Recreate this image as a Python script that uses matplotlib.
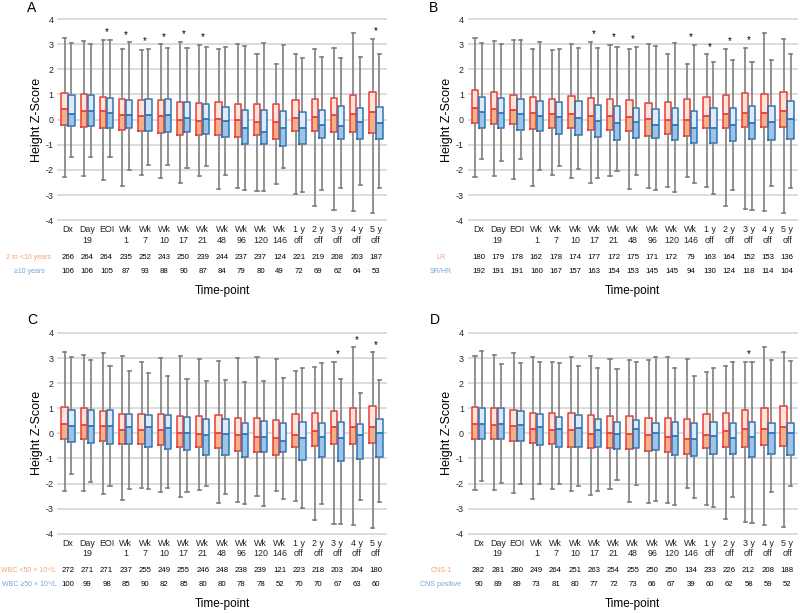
import matplotlib.pyplot as plt
import numpy as np

plt.rcParams['font.family'] = ['Liberation Sans', 'DejaVu Sans']
plt.rcParams['axes.unicode_minus'] = False

timepoints = ["Dx", "Day\n19", "EOI", "Wk\n1", "Wk\n7", "Wk\n10", "Wk\n17", "Wk\n21",
              "Wk\n48", "Wk\n96", "Wk\n120", "Wk\n146", "1 y\noff", "2 y\noff",
              "3 y\noff", "4 y\noff", "5 y\noff"]

# each entry: whisker low, Q1, median, Q3, whisker high
# --- A: age
a_red = [(-2.26, -0.23, 0.41, 1.06, 3.26), (-2.24, -0.28, 0.34, 1.03, 3.13), (-2.38, -0.32, 0.34, 0.91, 3.15),
         (-2.64, -0.42, 0.19, 0.81, 2.82), (-2.20, -0.44, 0.15, 0.77, 2.78), (-2.30, -0.53, 0.16, 0.78, 2.99),
         (-2.50, -0.60, 0.00, 0.70, 3.09), (-2.22, -0.60, -0.04, 0.68, 2.97), (-2.76, -0.60, 0.03, 0.72, 2.81),
         (-2.73, -0.68, 0.00, 0.62, 3.02), (-2.85, -0.62, -0.08, 0.61, 2.60), (-2.54, -0.75, -0.10, 0.62, 2.20),
         (-2.95, -0.46, 0.05, 0.79, 2.60), (-3.43, -0.46, 0.11, 0.83, 2.81), (-3.59, -0.50, 0.20, 0.85, 2.85),
         (-3.62, -0.48, 0.21, 0.97, 3.43), (-3.72, -0.54, 0.29, 1.11, 3.22)]
a_blue = [(-1.47, -0.25, 0.24, 0.97, 3.03), (-1.47, -0.25, 0.33, 0.97, 2.99), (-1.47, -0.34, 0.28, 0.87, 3.18),
          (-2.01, -0.33, 0.20, 0.79, 3.07), (-1.79, -0.44, 0.17, 0.81, 2.82), (-1.80, -0.49, 0.20, 0.82, 2.85),
          (-1.93, -0.50, 0.05, 0.72, 2.86), (-1.83, -0.56, 0.01, 0.64, 2.90), (-2.19, -0.68, -0.05, 0.52, 2.89),
          (-2.79, -0.95, -0.32, 0.37, 2.91), (-2.82, -0.97, -0.49, 0.40, 3.03), (-1.93, -1.03, -0.32, 0.34, 2.98),
          (-2.87, -0.95, -0.32, 0.30, 2.45), (-2.80, -0.74, -0.20, 0.40, 2.48), (-2.71, -0.75, -0.26, 0.54, 2.45),
          (-2.61, -0.75, -0.09, 0.45, 2.48), (-2.70, -0.75, -0.13, 0.49, 2.60)]
a_red_n = [266, 264, 264, 235, 252, 243, 250, 239, 244, 237, 237, 124, 221, 219, 208, 203, 187]
a_blue_n = [106, 106, 105, 87, 93, 88, 90, 87, 84, 79, 80, 49, 72, 69, 62, 64, 53]
a_groups = ["2 to <10 years", "≥10 years"]
a_sig = [2, 3, 4, 5, 6, 7, 16]

# --- B: risk group
b_red = [(-2.28, -0.15, 0.45, 1.19, 3.26), (-2.25, -0.19, 0.41, 1.11, 3.13), (-2.37, -0.19, 0.40, 0.99, 3.15),
         (-2.64, -0.37, 0.25, 0.89, 2.82), (-2.20, -0.32, 0.21, 0.83, 2.78), (-2.30, -0.34, 0.24, 0.93, 2.99),
         (-2.50, -0.41, 0.13, 0.85, 3.09), (-2.22, -0.40, 0.13, 0.81, 2.97), (-2.76, -0.44, 0.09, 0.79, 2.81),
         (-2.73, -0.66, 0.04, 0.68, 3.02), (-2.69, -0.56, -0.03, 0.72, 2.60), (-2.26, -0.66, 0.00, 0.81, 2.20),
         (-2.66, -0.34, 0.16, 0.91, 2.60), (-3.43, -0.34, 0.21, 0.98, 2.81), (-3.56, -0.29, 0.25, 1.05, 2.85),
         (-3.62, -0.28, 0.25, 1.00, 3.43), (-3.72, -0.29, 0.33, 1.11, 3.22)]
b_blue = [(-1.56, -0.32, 0.29, 0.90, 3.05), (-1.63, -0.34, 0.28, 0.85, 2.99), (-1.55, -0.40, 0.21, 0.83, 3.18),
          (-2.01, -0.45, 0.16, 0.75, 3.07), (-1.85, -0.57, 0.09, 0.69, 2.82), (-1.95, -0.60, 0.08, 0.74, 2.85),
          (-2.30, -0.69, -0.05, 0.60, 2.86), (-2.04, -0.81, -0.15, 0.54, 2.90), (-2.19, -0.72, -0.08, 0.48, 2.89),
          (-2.79, -0.74, -0.20, 0.41, 2.91), (-2.86, -0.82, -0.21, 0.45, 3.03), (-2.53, -0.93, -0.33, 0.34, 2.98),
          (-2.95, -0.94, -0.32, 0.48, 2.29), (-2.80, -0.85, -0.20, 0.48, 2.38), (-3.59, -0.77, -0.13, 0.54, 2.30),
          (-2.62, -0.82, -0.08, 0.56, 2.38), (-2.70, -0.75, 0.01, 0.75, 2.60)]
b_red_n = [180, 179, 178, 162, 178, 174, 177, 172, 175, 171, 172, 79, 163, 164, 152, 153, 136]
b_blue_n = [192, 191, 191, 160, 167, 157, 163, 154, 153, 145, 145, 94, 130, 124, 118, 114, 104]
b_groups = ["LR", "SR/HR"]
b_sig = [6, 7, 8, 11, 12, 13, 14]

# --- C: WBC at diagnosis
c_red = [(-2.29, -0.23, 0.36, 1.06, 3.26), (-2.29, -0.24, 0.33, 1.02, 3.12), (-2.41, -0.31, 0.28, 0.88, 3.19),
         (-2.67, -0.41, 0.15, 0.78, 3.07), (-2.19, -0.43, 0.12, 0.76, 2.83), (-2.34, -0.45, 0.12, 0.78, 3.00),
         (-2.54, -0.56, 0.00, 0.70, 3.07), (-2.26, -0.54, -0.01, 0.69, 2.96), (-2.79, -0.58, 0.00, 0.72, 2.90),
         (-2.72, -0.70, -0.05, 0.61, 3.02), (-2.51, -0.76, -0.13, 0.60, 3.03), (-2.30, -0.85, -0.19, 0.52, 2.98),
         (-2.68, -0.54, -0.05, 0.78, 2.48), (-3.47, -0.50, 0.09, 0.82, 2.66), (-3.60, -0.43, 0.24, 0.90, 2.86),
         (-3.67, -0.44, 0.25, 1.00, 3.43), (-3.76, -0.39, 0.27, 1.09, 3.23)]
c_blue = [(-1.61, -0.36, 0.31, 0.93, 3.03), (-1.93, -0.40, 0.31, 0.93, 2.94), (-2.11, -0.44, 0.31, 0.92, 2.70),
          (-2.23, -0.41, 0.27, 0.78, 2.50), (-2.21, -0.54, 0.24, 0.72, 2.41), (-2.17, -0.64, 0.23, 0.73, 2.29),
          (-2.34, -0.66, 0.01, 0.66, 2.18), (-2.10, -0.88, -0.08, 0.56, 2.10), (-2.43, -0.85, -0.01, 0.56, 2.11),
          (-2.82, -0.93, -0.04, 0.41, 2.03), (-2.88, -0.76, -0.15, 0.48, 2.09), (-2.60, -0.74, -0.29, 0.43, 2.21),
          (-2.99, -1.08, -0.20, 0.47, 2.59), (-2.83, -0.94, -0.15, 0.43, 2.82), (-3.63, -1.09, -0.20, 0.44, 2.17),
          (-2.64, -1.04, -0.07, 0.39, 1.62), (-2.72, -0.93, 0.00, 0.57, 2.14)]
c_red_n = [272, 271, 271, 237, 255, 249, 255, 246, 248, 238, 239, 121, 223, 218, 203, 204, 180]
c_blue_n = [100, 99, 98, 85, 90, 82, 85, 80, 80, 78, 78, 52, 70, 70, 67, 63, 60]
c_groups = ["WBC <50 × 10⁹/L", "WBC ≥50 × 10⁹/L"]
c_sig = [14, 15, 16]

# --- D: CNS status
d_red = [(-2.26, -0.21, 0.37, 1.06, 3.10), (-2.24, -0.24, 0.33, 1.00, 3.13), (-2.37, -0.30, 0.29, 0.93, 3.20),
         (-2.63, -0.38, 0.17, 0.81, 3.06), (-2.20, -0.42, 0.13, 0.81, 2.84), (-2.29, -0.54, 0.12, 0.81, 3.03),
         (-2.47, -0.58, -0.01, 0.75, 3.10), (-2.22, -0.58, 0.00, 0.71, 2.98), (-2.72, -0.61, -0.03, 0.71, 2.91),
         (-2.78, -0.70, -0.08, 0.61, 2.91), (-2.79, -0.74, -0.13, 0.61, 3.03), (-2.16, -0.82, -0.21, 0.57, 2.98),
         (-2.86, -0.58, -0.08, 0.78, 2.46), (-3.43, -0.54, 0.09, 0.83, 2.67), (-3.55, -0.54, 0.19, 0.93, 2.86),
         (-3.64, -0.46, 0.16, 1.02, 3.44), (-3.72, -0.52, 0.25, 1.10, 3.23)]
d_blue = [(-1.90, -0.24, 0.37, 1.00, 3.27), (-1.97, -0.24, 0.38, 1.00, 2.76), (-2.01, -0.30, 0.33, 0.89, 2.79),
          (-2.01, -0.46, 0.24, 0.77, 2.84), (-2.01, -0.56, 0.16, 0.65, 2.79), (-2.09, -0.54, 0.22, 0.73, 2.70),
          (-2.30, -0.54, 0.13, 0.58, 2.61), (-1.85, -0.61, -0.03, 0.44, 2.57), (-2.05, -0.60, 0.17, 0.53, 2.83),
          (-2.70, -0.66, 0.03, 0.42, 3.03), (-2.84, -0.85, -0.12, 0.46, 2.61), (-2.58, -0.91, -0.21, 0.40, 2.30),
          (-2.95, -0.81, -0.12, 0.44, 2.59), (-2.54, -0.82, -0.19, 0.42, 2.83), (-3.57, -0.94, -0.15, 0.44, 2.83),
          (-2.35, -0.82, 0.00, 0.41, 2.91), (-2.09, -0.86, 0.00, 0.42, 2.87)]
d_red_n = [282, 281, 280, 249, 264, 251, 263, 254, 255, 250, 250, 134, 233, 226, 212, 208, 188]
d_blue_n = [90, 89, 89, 73, 81, 80, 77, 72, 73, 66, 67, 39, 60, 62, 58, 59, 52]
d_groups = ["CNS-1", "CNS positive"]
d_sig = [14]

RED_EDGE, RED_LOW, RED_HIGH = '#ee3b3b', '#f4b183', '#fbe5d6'
BLUE_EDGE, BLUE_LOW, BLUE_HIGH = '#2e75b6', '#9dc3e6', '#deebf7'
RED_TXT, BLUE_TXT = '#f4a46a', '#6fa8dc'
GRAY = '#7f7f7f'


def draw_group(ax, data, pos, edge, low, high):
    lo, q1, med, q3, hi = [np.array(v) for v in zip(*data)]
    ax.bar(pos, med - q1, bottom=q1, width=0.33, color=low, lw=0, zorder=1)
    ax.bar(pos, q3 - med, bottom=med, width=0.33, color=high, lw=0, zorder=1)
    stats = [dict(whislo=a, q1=b, med=c, q3=d, whishi=e, fliers=[]) for a, b, c, d, e in data]
    ax.bxp(stats, positions=pos, widths=0.33, showfliers=False, manage_ticks=False,
           capwidths=0.16,
           boxprops=dict(color=edge, lw=1.1),
           medianprops=dict(color=edge, lw=1.3),
           whiskerprops=dict(color=GRAY, lw=1.2),
           capprops=dict(color=GRAY, lw=1.2))


def panel(rect, red, blue, red_n, blue_n, groups, sig, lab_x):
    ax = fig.add_axes(rect)
    x = np.arange(len(timepoints))
    draw_group(ax, red, x - 0.18, RED_EDGE, RED_LOW, RED_HIGH)
    draw_group(ax, blue, x + 0.18, BLUE_EDGE, BLUE_LOW, BLUE_HIGH)

    for i in sig:
        top = max(red[i][4], blue[i][4])
        ax.text(i, top + 0.3, '*', ha='center', va='center', fontsize=7)

    ax.set_xlim(-0.5, len(timepoints) - 0.5)
    ax.set_ylim(-4, 4)
    ax.set_yticks(range(-4, 5))
    ax.set_xticks(x)
    ax.set_xticklabels(timepoints, fontsize=6.4, linespacing=1.2)
    ax.tick_params(axis='both', length=0, labelsize=6.4, pad=3.5, colors='#222222')
    ax.yaxis.grid(True, color='#d9d9d9', lw=1.3, clip_on=False)
    ax.set_axisbelow(True)
    for s in ax.spines.values():
        s.set_visible(False)
    ax.set_ylabel('Height Z-Score', fontsize=9, labelpad=2)

    tr = ax.get_xaxis_transform()
    for i in x:
        ax.text(i, -0.184, str(red_n[i]), transform=tr, ha='center', va='center', fontsize=5.6)
        ax.text(i, -0.254, str(blue_n[i]), transform=tr, ha='center', va='center', fontsize=5.6)
    ax.text(lab_x, -0.184, groups[0], transform=ax.transAxes, ha='center', va='center',
            fontsize=5.0, color=RED_TXT)
    ax.text(lab_x, -0.254, groups[1], transform=ax.transAxes, ha='center', va='center',
            fontsize=5.0, color=BLUE_TXT)
    ax.text(0.5, -0.35, 'Time-point', transform=ax.transAxes, ha='center', va='center', fontsize=8.5)
    return ax


fig = plt.figure(figsize=(8, 6.13), dpi=100)

panel([0.073, 0.6406, 0.409, 0.3284], a_red, a_blue, a_red_n, a_blue_n, a_groups, a_sig, -0.09)
panel([0.586, 0.6406, 0.41, 0.3284], b_red, b_blue, b_red_n, b_blue_n, b_groups, b_sig, -0.085)
panel([0.073, 0.1294, 0.409, 0.3274], c_red, c_blue, c_red_n, c_blue_n, c_groups, c_sig, -0.09)
panel([0.586, 0.1294, 0.41, 0.3274], d_red, d_blue, d_red_n, d_blue_n, d_groups, d_sig, -0.085)

fig.text(27 / 800, 1 - 8 / 613, 'A', fontsize=10, ha='left', va='center')
fig.text(429 / 800, 1 - 8 / 613, 'B', fontsize=10, ha='left', va='center')
fig.text(27 / 800, 1 - 320 / 613, 'C', fontsize=10, ha='left', va='center')
fig.text(430 / 800, 1 - 320 / 613, 'D', fontsize=10, ha='left', va='center')

fig.savefig('out.png', dpi=100)
